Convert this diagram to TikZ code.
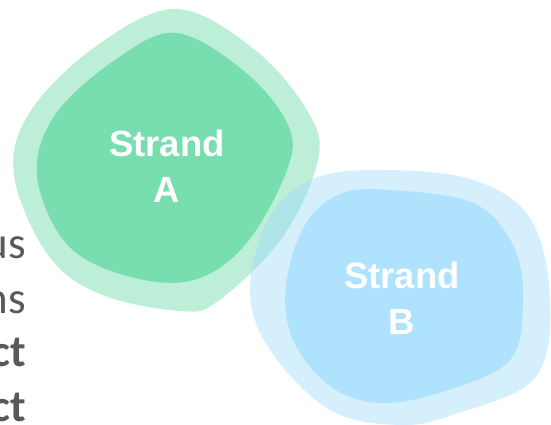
\documentclass[tikz,border=0pt]{standalone}
\usepackage{fontspec}
\setmainfont{Carlito}
\newfontfamily\labelfont{Liberation Sans}
\definecolor{gout}{HTML}{BCEED8}
\definecolor{gin}{HTML}{78DDAF}
\definecolor{bout}{RGB}{162,220,251}
\definecolor{bin}{HTML}{AEE2FD}
\definecolor{txtgray}{HTML}{595959}
\tikzset{
  strandlabel/.style={text=white, font=\labelfont\bfseries\fontsize{36.5}{46}\selectfont, align=center, inner sep=0pt},
  sidetext/.style={text=txtgray, font=\fontsize{45}{54}\selectfont, anchor=base east, inner sep=0pt},
  sidebold/.style={sidetext, font=\bfseries\fontsize{45}{54}\selectfont},
  blob/.style={smooth cycle, tension=0.6},
}
\begin{document}
\begin{tikzpicture}[x=1pt,y=-1pt]
\useasboundingbox (0,0) rectangle (551,424);
\clip (0,0) rectangle (551,424);
% side text
\node[sidetext] (t1) at (26,258) {us};
\node[sidetext] (t2) at (26,313) {ns};
\node[sidebold] (t3) at (26,366) {ct};
\node[sidebold] (t4) at (26,421) {ct};
% green blob
\fill[gout] plot[blob] coordinates {
 (176,9) (255,50) (308,112) (318,160) (282,238) (218,301) (180,311)
 (100,294) (48,255) (14,175) (30,112) (95,47)};
\fill[gin] plot[blob] coordinates {
 (176,33) (245,72) (288,125) (287,170) (245,245) (190,281) (120,274)
 (65,242) (37,175) (55,115) (115,60)};
% blue blob
\fill[bout, opacity=0.45] plot[blob] coordinates {
 (375,170) (470,179) (530,218) (550,300) (535,378) (455,414) (400,425)
 (330,410) (270,350) (250,290) (268,220) (310,180)};
\fill[bin] plot[blob] coordinates {
 (390,190) (473,203) (513,245) (523,300) (510,360) (445,391) (380,403)
 (330,386) (293,340) (286,285) (305,225) (340,194)};
% labels
\node[strandlabel] (la) at (167,166) {Strand\\A};
\node[strandlabel] (lb) at (402,298) {Strand\\B};
\end{tikzpicture}
\end{document}
